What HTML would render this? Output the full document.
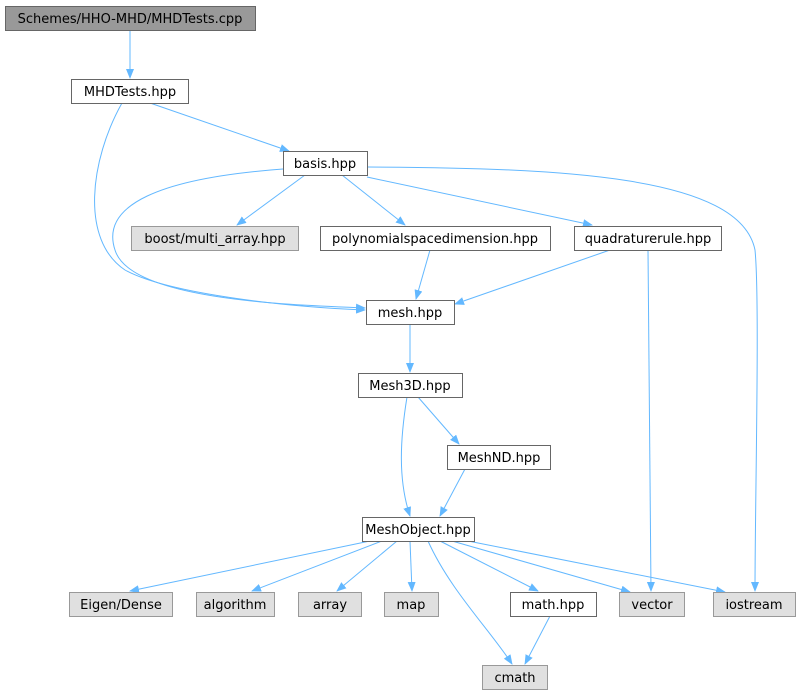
<!DOCTYPE html>
<html><head><meta charset="utf-8"><style>
html,body{margin:0;padding:0;background:#fff;width:799px;height:696px;overflow:hidden}
text{font-family:"DejaVu Sans","Liberation Sans",sans-serif;font-size:13px;fill:#000}
</style></head><body>
<svg width="799" height="696" viewBox="0 0 799 696" xmlns="http://www.w3.org/2000/svg">
<defs><marker id="a" markerWidth="10" markerHeight="8" refX="9" refY="4" orient="auto" markerUnits="userSpaceOnUse"><path d="M0,0 L10,4 L0,8 z" fill="#63b8ff"/></marker></defs>
<g fill="none" stroke="#63b8ff" stroke-width="1" marker-end="url(#a)">
<path d="M130,30 L130,78"/>
<path d="M150,103 L289,151"/>
<path d="M122,103 C90,160 80,240 125,270 C170,295 300,308 365,310"/>
<path d="M305,175 L237,225"/>
<path d="M342,175 L405,225"/>
<path d="M367,177 L592,225"/>
<path d="M367,167 C560,168 740,175 755,250 C760,300 755,500 755,591"/>
<path d="M283,169 C160,178 100,205 115,250 C130,300 290,305 365,308"/>
<path d="M430,250 L416,299"/>
<path d="M610,250 L455,304"/>
<path d="M648,250 L651,591"/>
<path d="M410,324 L410,372"/>
<path d="M418,397 L459,444"/>
<path d="M407,397 C400,440 398,480 410,516"/>
<path d="M465,469 L440,516"/>
<path d="M370,541 L130,591"/>
<path d="M382,541 L252,591"/>
<path d="M397,541 L337,591"/>
<path d="M410,541 L412,591"/>
<path d="M428,541 C450,590 490,630 512,664"/>
<path d="M440,541 L538,591"/>
<path d="M452,541 L630,592"/>
<path d="M468,541 L725,592"/>
<path d="M550,616 L525,664"/>
</g>
<g stroke-width="1">
<rect x="5.5" y="6.5" width="250" height="24" fill="#999" stroke="#666"/>
<rect x="71.5" y="79.5" width="117" height="24" fill="#fff" stroke="#666"/>
<rect x="283.5" y="151.5" width="84" height="24" fill="#fff" stroke="#666"/>
<rect x="131.5" y="226.5" width="167" height="24" fill="#e0e0e0" stroke="#999"/>
<rect x="320.5" y="226.5" width="230" height="24" fill="#fff" stroke="#666"/>
<rect x="574.5" y="226.5" width="147" height="24" fill="#fff" stroke="#666"/>
<rect x="366.5" y="300.5" width="88" height="24" fill="#fff" stroke="#666"/>
<rect x="358.5" y="373.5" width="104" height="24" fill="#fff" stroke="#666"/>
<rect x="447.5" y="445.5" width="103" height="24" fill="#fff" stroke="#666"/>
<rect x="362.5" y="517.5" width="112" height="24" fill="#fff" stroke="#666"/>
<rect x="69.5" y="592.5" width="103" height="24" fill="#e0e0e0" stroke="#999"/>
<rect x="196.5" y="592.5" width="78" height="24" fill="#e0e0e0" stroke="#999"/>
<rect x="298.5" y="592.5" width="63" height="24" fill="#e0e0e0" stroke="#999"/>
<rect x="384.5" y="592.5" width="54" height="24" fill="#e0e0e0" stroke="#999"/>
<rect x="510.5" y="592.5" width="86" height="24" fill="#fff" stroke="#666"/>
<rect x="619.5" y="592.5" width="65" height="24" fill="#e0e0e0" stroke="#999"/>
<rect x="713.5" y="592.5" width="82" height="24" fill="#e0e0e0" stroke="#999"/>
<rect x="482.5" y="665.5" width="65" height="24" fill="#e0e0e0" stroke="#999"/>
</g>
<g text-anchor="middle">
<text x="130" y="23">Schemes/HHO-MHD/MHDTests.cpp</text>
<text x="130" y="96">MHDTests.hpp</text>
<text x="325" y="168">basis.hpp</text>
<text x="215" y="243">boost/multi_array.hpp</text>
<text x="435" y="243">polynomialspacedimension.hpp</text>
<text x="648" y="243">quadraturerule.hpp</text>
<text x="410" y="317">mesh.hpp</text>
<text x="410" y="390">Mesh3D.hpp</text>
<text x="499" y="462">MeshND.hpp</text>
<text x="418" y="534">MeshObject.hpp</text>
<text x="121" y="609">Eigen/Dense</text>
<text x="235" y="609">algorithm</text>
<text x="330" y="609">array</text>
<text x="411" y="609">map</text>
<text x="553" y="609">math.hpp</text>
<text x="652" y="609">vector</text>
<text x="754" y="609">iostream</text>
<text x="515" y="682">cmath</text>
</g>
</svg>
</body></html>
